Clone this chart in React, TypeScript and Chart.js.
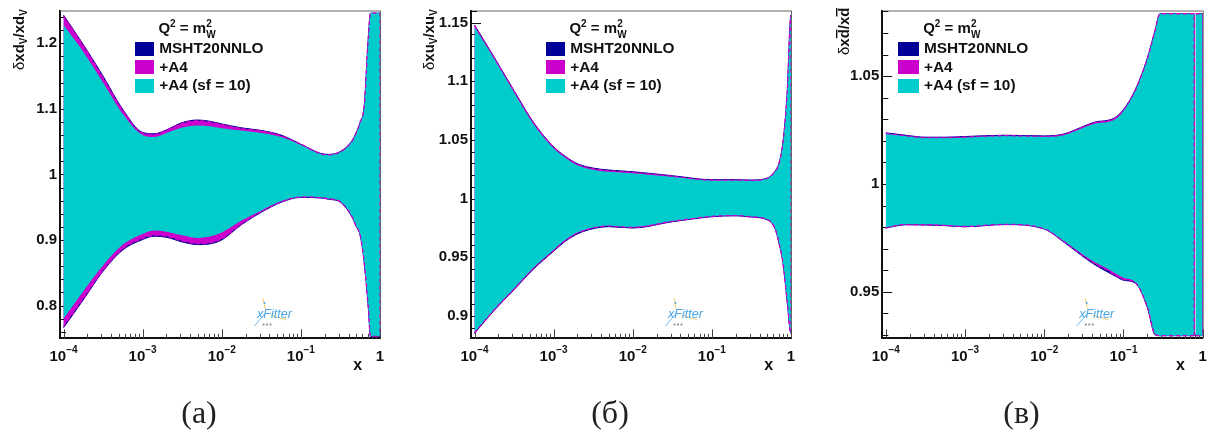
import React, { useEffect, useRef } from "react";
import { Chart, registerables } from "chart.js";

Chart.register(...registerables);

const xA = [1e-4, 1.78e-4, 3.16e-4, 5.62e-4, 1e-3, 1.41e-3, 2e-3, 3.16e-3, 5e-3, 7.08e-3, 1e-2, 1.78e-2, 3.16e-2, 5.62e-2, 0.1, 0.178, 0.224, 0.316, 0.447, 0.501, 0.562, 0.631, 0.708, 0.759, 0.891, 1, 1];
const dvMshtUp = [1.243, 1.198, 1.15, 1.099, 1.064, 1.062, 1.068, 1.079, 1.083, 1.081, 1.077, 1.071, 1.067, 1.06, 1.046, 1.032, 1.0305, 1.035, 1.052, 1.064, 1.08, 1.1045, 1.205, 1.246, 1.246, 1.246, 0.753];
const dvMshtLo = [0.766, 0.8087, 0.8524, 0.8848, 0.9006, 0.9056, 0.9041, 0.897, 0.8929, 0.894, 0.9, 0.9234, 0.9422, 0.9574, 0.965, 0.964, 0.9622, 0.9577, 0.9341, 0.9204, 0.9067, 0.8656, 0.8, 0.753, 0.753, 0.753, 0.753];
const dvA4Up = [1.242, 1.197, 1.148, 1.098, 1.063, 1.061, 1.0675, 1.078, 1.082, 1.08, 1.076, 1.07, 1.0665, 1.059, 1.046, 1.0315, 1.03, 1.0345, 1.0515, 1.0635, 1.0795, 1.104, 1.2045, 1.246, 1.246, 1.246, 0.753];
const dvA4Lo = [0.7681, 0.8102, 0.8534, 0.8864, 0.9021, 0.9071, 0.9056, 0.8985, 0.8944, 0.8955, 0.9016, 0.9244, 0.9432, 0.9579, 0.9655, 0.9645, 0.9627, 0.9582, 0.9346, 0.9209, 0.9072, 0.8661, 0.8005, 0.753, 0.753, 0.753, 0.753];
const dvSfUp = [1.228, 1.187, 1.14, 1.092, 1.06, 1.057, 1.063, 1.0715, 1.0745, 1.0735, 1.0705, 1.067, 1.063, 1.057, 1.045, 1.031, 1.0295, 1.034, 1.051, 1.063, 1.079, 1.1035, 1.204, 1.246, 1.246, 1.246, 0.753];
const dvSfLo = [0.7798, 0.8219, 0.861, 0.8929, 0.9092, 0.9143, 0.9127, 0.9072, 0.9031, 0.9051, 0.9112, 0.9295, 0.9447, 0.9589, 0.966, 0.965, 0.9632, 0.9587, 0.9351, 0.9214, 0.9077, 0.8666, 0.801, 0.753, 0.753, 0.753, 0.753];

const xB = [1e-4, 1.78e-4, 3.16e-4, 5.62e-4, 1e-3, 1.41e-3, 2e-3, 3.16e-3, 5e-3, 1e-2, 3.16e-2, 0.1, 0.2, 0.316, 0.501, 0.631, 0.708, 0.794, 0.891, 1, 1];
const uvMshtUp = [1.148, 1.1203, 1.092, 1.0645, 1.0441, 1.0359, 1.0297, 1.026, 1.0243, 1.0229, 1.0195, 1.0161, 1.0161, 1.0158, 1.0175, 1.0235, 1.0306, 1.049, 1.0886, 1.1565, 0.885];
const uvMshtLo = [0.885, 0.9048, 0.9223, 0.9401, 0.9551, 0.9636, 0.9698, 0.9743, 0.976, 0.9749, 0.9802, 0.9845, 0.9853, 0.9842, 0.9819, 0.974, 0.9613, 0.9444, 0.9133, 0.885, 0.885];
const uvA4Up = [1.1477, 1.12, 1.0917, 1.0642, 1.0438, 1.0356, 1.0293, 1.0255, 1.0238, 1.0224, 1.0191, 1.0158, 1.0158, 1.0155, 1.0173, 1.0233, 1.0304, 1.0488, 1.0884, 1.1563, 0.885];
const uvA4Lo = [0.8853, 0.9051, 0.9227, 0.9405, 0.9556, 0.9642, 0.9704, 0.9749, 0.9765, 0.9753, 0.9805, 0.9847, 0.9855, 0.9844, 0.9821, 0.9742, 0.9615, 0.9446, 0.9135, 0.8852, 0.885];
const uvSfUp = [1.1465, 1.119, 1.0907, 1.0632, 1.043, 1.0347, 1.0283, 1.0245, 1.0228, 1.0216, 1.0185, 1.0153, 1.0153, 1.0151, 1.017, 1.023, 1.0302, 1.0486, 1.0882, 1.1561, 0.885];
const uvSfLo = [0.8858, 0.9056, 0.9233, 0.9411, 0.9562, 0.9648, 0.971, 0.9754, 0.9769, 0.9757, 0.9808, 0.9849, 0.9857, 0.9846, 0.9823, 0.9744, 0.9617, 0.9448, 0.9137, 0.8854, 0.885];

const xC = [1e-4, 1.78e-4, 3.16e-4, 5.62e-4, 1e-3, 3.16e-3, 1e-2, 1.78e-2, 3.16e-2, 4.47e-2, 6.31e-2, 7.94e-2, 0.1, 0.141, 0.2, 0.251, 0.288, 0.501, 0.78, 0.7801, 0.8, 0.815, 1, 1];
const adMshtUp = [1.0237, 1.0226, 1.0217, 1.0217, 1.022, 1.0226, 1.0223, 1.0232, 1.0268, 1.0288, 1.0295, 1.0309, 1.0345, 1.0437, 1.0583, 1.0714, 1.0789, 1.0789, 1.0789, 0.9297, null, 1.0789, 1.0789, 0.9297];
const adMshtLo = [0.9796, 0.9811, 0.981, 0.9807, 0.9802, 0.9812, 0.9791, 0.973, 0.9661, 0.9623, 0.9592, 0.9572, 0.9554, 0.9541, 0.9428, 0.9301, 0.9297, 0.9297, 0.9297, 0.9297, null, 0.9297, 0.9297, 0.9297];
const adA4Up = [1.0235, 1.0224, 1.0215, 1.0215, 1.0218, 1.0224, 1.0221, 1.023, 1.0266, 1.0286, 1.0293, 1.0307, 1.0343, 1.0435, 1.0581, 1.0712, 1.0789, 1.0789, 1.0789, 0.9297, null, 1.0789, 1.0789, 0.9297];
const adA4Lo = [0.9797, 0.9812, 0.9811, 0.9808, 0.9803, 0.9813, 0.9792, 0.9732, 0.9665, 0.9628, 0.96, 0.9575, 0.9558, 0.9543, 0.943, 0.9303, 0.9297, 0.9297, 0.9297, 0.9297, null, 0.9297, 0.9297, 0.9297];
const adSfUp = [1.0233, 1.0222, 1.0213, 1.0213, 1.0216, 1.0222, 1.0219, 1.0227, 1.0262, 1.028, 1.0287, 1.0301, 1.0338, 1.0432, 1.0579, 1.071, 1.0789, 1.0789, 1.0789, 0.9297, null, 1.0789, 1.0789, 0.9297];
const adSfLo = [0.9798, 0.9813, 0.9813, 0.981, 0.9805, 0.9814, 0.9793, 0.9735, 0.967, 0.9635, 0.9607, 0.9585, 0.9566, 0.9545, 0.9432, 0.9305, 0.9297, 0.9297, 0.9297, 0.9297, null, 0.9297, 0.9297, 0.9297];

const xMajorTicks = [1e-4, 1e-3, 1e-2, 1e-1, 1];
const xTickBases = ["10", "10", "10", "10", "1"];
const xTickExponents = ["−4", "−3", "−2", "−1", ""];
const xMinorFactors = [2, 3, 4, 5, 6, 7, 8, 9];
const yMajorA = [0.8, 0.9, 1, 1.1, 1.2];
const yMajorB = [0.9, 0.95, 1, 1.05, 1.1, 1.15];
const yMajorC = [0.95, 1, 1.05];
const legendLabels = ["MSHT20NNLO", "+A4", "+A4 (sf = 10)"];

const BLUE = "#000099";
const MAGENTA = "#cc00cc";
const CYAN = "#00cccc";
const FONT = '"Liberation Sans", Arial, sans-serif';
const X_MIN = 9.03e-5;
const H = 435;
const TOP = 8.7;
const BOTTOM = 338.3;
const LEGEND_FONT = 15.4;

type Seg = { t: string; font: string; dy?: number; bar?: boolean };
const REG15 = `15px ${FONT}`;
const B15 = `bold 15px ${FONT}`;
const B10 = `bold 10px ${FONT}`;

const drawSegs = (ctx: any, segs: Seg[], x: number, y: number) => {
  let cx = x;
  for (const s of segs) {
    ctx.font = s.font;
    const w = ctx.measureText(s.t).width;
    ctx.fillText(s.t, cx, y + (s.dy || 0));
    if (s.bar) {
      ctx.fillRect(cx + w - 9, y - 13, 8.5, 1.4);
    }
    cx += w;
  }
};

const qSegs: Seg[] = [
  { t: "Q", font: B15 },
  { t: "2", font: B10, dy: -6.5 },
  { t: " = m", font: B15 },
];

const legendBox = (color: string, w: number) => {
  const c = document.createElement("canvas");
  c.width = w;
  c.height = 14;
  const g = c.getContext("2d") as any;
  g.fillStyle = color;
  g.fillRect(0, 0, w, 14);
  return c;
};

type Panel = {
  caption: string;
  captionX: number;
  canvasLeft: number;
  width: number;
  left: number;
  right: number;
  yMin: number;
  yMax: number;
  yMajor: number[];
  yMinorStep: number;
  xs: number[];
  ms: [any[], any[]];
  a4: [any[], any[]];
  sf: [any[], any[]];
  titleBase: number;
  titleStart: number;
  titleSegs: Seg[];
  legendX: number;
  boxW: number;
  textOff: number;
};

const panels: Panel[] = [
  {
    caption: "(a)", captionX: 199, canvasLeft: 0, width: 405, left: 60, right: 380,
    yMin: 0.75, yMax: 1.25, yMajor: yMajorA, yMinorStep: 0.02, xs: xA,
    ms: [dvMshtUp, dvMshtLo], a4: [dvA4Up, dvA4Lo], sf: [dvSfUp, dvSfLo],
    titleBase: 24, titleStart: 70,
    titleSegs: [
      { t: "δ", font: REG15 }, { t: "xd", font: B15 }, { t: "V", font: B10, dy: 3 },
      { t: "/xd", font: B15 }, { t: "V", font: B10, dy: 3 },
    ],
    legendX: 136, boxW: 19, textOff: 23.2,
  },
  {
    caption: "(б)", captionX: 610, canvasLeft: 410, width: 405, left: 61, right: 381,
    yMin: 0.8808, yMax: 1.1604, yMajor: yMajorB, yMinorStep: 0.01, xs: xB,
    ms: [uvMshtUp, uvMshtLo], a4: [uvA4Up, uvA4Lo], sf: [uvSfUp, uvSfLo],
    titleBase: 24, titleStart: 70,
    titleSegs: [
      { t: "δ", font: REG15 }, { t: "xu", font: B15 }, { t: "V", font: B10, dy: 3 },
      { t: "/xu", font: B15 }, { t: "V", font: B10, dy: 3 },
    ],
    legendX: 137, boxW: 19, textOff: 23.2,
  },
  {
    caption: "(в)", captionX: 1021.5, canvasLeft: 820, width: 404, left: 62.3, right: 382.7,
    yMin: 0.9285, yMax: 1.0804, yMajor: yMajorC, yMinorStep: 0.01, xs: xC,
    ms: [adMshtUp, adMshtLo], a4: [adA4Up, adA4Lo], sf: [adSfUp, adSfLo],
    titleBase: 29, titleStart: 55,
    titleSegs: [
      { t: "δ", font: REG15 }, { t: "xd", font: B15, bar: true },
      { t: "/xd", font: B15, bar: true },
    ],
    legendX: 79, boxW: 21, textOff: 25,
  },
];

const pts = (xs: number[], ys: any[]) => xs.map((x, i) => ({ x, y: ys[i] }));
const boxStep = (p: Panel) => 2 * (p.textOff + 1 - LEGEND_FONT / 2) - p.boxW;

const makeDatasets = (p: Panel) => {
  const line = {
    pointRadius: 0,
    cubicInterpolationMode: "monotone",
    spanGaps: false,
  };
  const band = (pair: [any[], any[]], color: string, order: number, bw: number, label: string) => [
    { ...line, label, data: pts(p.xs, pair[0]), fill: "+1", backgroundColor: color, borderColor: color, borderWidth: bw, order },
    { ...line, label: label + " low", data: pts(p.xs, pair[1]), fill: false, backgroundColor: color, borderColor: color, borderWidth: bw, order },
  ];
  const outline = (ys: any[], label: string) => ({
    ...line, label, data: pts(p.xs, ys), fill: false, borderColor: MAGENTA, borderWidth: 1.3, borderDash: [4, 3], order: 1,
  });
  return [
    ...band(p.ms, BLUE, 5, 1, legendLabels[0]),
    ...band(p.a4, MAGENTA, 4, 0, legendLabels[1]),
    ...band(p.sf, CYAN, 3, 0, legendLabels[2]),
    outline(p.a4[0], "+A4 edge up"),
    outline(p.a4[1], "+A4 edge low"),
  ];
};

const xTickList = () => {
  const out: any[] = [];
  xMajorTicks.forEach((m, i) => {
    out.push({ value: m, major: true });
    if (i < xMajorTicks.length - 1) xMinorFactors.forEach((f) => out.push({ value: m * f, major: false }));
  });
  return out;
};

const yTickList = (p: Panel) => {
  const out: any[] = [];
  const n0 = Math.ceil(p.yMin / p.yMinorStep);
  const n1 = Math.floor(p.yMax / p.yMinorStep);
  for (let n = n0; n <= n1; n++) {
    const v = +(n * p.yMinorStep).toFixed(4);
    if (!p.yMajor.some((m) => Math.abs(m - v) < 1e-6)) out.push({ value: v, major: false });
  }
  p.yMajor.forEach((m) => out.push({ value: m, major: true }));
  return out.sort((a, b) => a.value - b.value);
};

const panelPlugin = (p: Panel) => ({
  id: "panelDecor",
  beforeDraw(chart: any) {
    const lg = chart.legend;
    const pad = lg.options.labels.padding;
    lg.left = p.legendX - (boxStep(p) - p.boxW) / 2 - pad - 1;
    lg.right = lg.left + 260;
    lg.top = 41 - pad;
    lg.bottom = lg.top + 90;
  },
  beforeDatasetsDraw(chart: any) {
    const { ctx, chartArea: a, scales } = chart;
    ctx.save();
    ctx.lineWidth = 1;
    ctx.strokeStyle = "#666";
    ctx.beginPath();
    ctx.moveTo(a.left, a.top + 0.5);
    ctx.lineTo(a.right, a.top + 0.5);
    ctx.moveTo(a.right + 0.5, a.top);
    ctx.lineTo(a.right + 0.5, a.bottom);
    ctx.stroke();
    ctx.strokeStyle = "#444";
    for (const t of scales.x.ticks) {
      const px = Math.round(scales.x.getPixelForValue(t.value)) + 0.5;
      ctx.beginPath();
      ctx.moveTo(px, a.bottom);
      ctx.lineTo(px, a.bottom - (t.major ? 9 : 4.5));
      ctx.stroke();
    }
    ctx.strokeStyle = "#111";
    for (const t of scales.y.ticks) {
      const py = Math.round(scales.y.getPixelForValue(t.value)) + 0.5;
      ctx.beginPath();
      ctx.moveTo(a.left, py);
      ctx.lineTo(a.left + (t.major ? 10 : 6), py);
      ctx.stroke();
    }
    ctx.restore();
  },
  afterDraw(chart: any) {
    const { ctx, scales } = chart;
    ctx.save();
    ctx.fillStyle = "#111";
    ctx.textBaseline = "alphabetic";
    ctx.textAlign = "left";
    // x tick labels with real superscript exponents
    xMajorTicks.forEach((m, i) => {
      const px = scales.x.getPixelForValue(m);
      ctx.font = B15;
      const bw = ctx.measureText(xTickBases[i]).width;
      ctx.font = B10;
      const ew = ctx.measureText(xTickExponents[i]).width;
      const start = px - (bw + ew) / 2;
      ctx.font = B15;
      ctx.fillText(xTickBases[i], start, 360.5);
      if (xTickExponents[i]) {
        ctx.font = B10;
        ctx.fillText(xTickExponents[i], start + bw, 352.5);
      }
    });
    // annotation Q^2 = m_W^2
    const qx = p.legendX + p.textOff - 0.8;
    drawSegs(ctx, qSegs, qx, 33);
    ctx.font = B15;
    const qw = 11.7 + 5.6 + ctx.measureText(" = m").width;
    ctx.font = B10;
    ctx.fillText("2", qx + qw, 26.5);
    ctx.fillText("W", qx + qw, 37.5);
    // rotated y title
    ctx.save();
    ctx.translate(p.titleBase, p.titleStart);
    ctx.rotate(-Math.PI / 2);
    drawSegs(ctx, p.titleSegs, 0, 0);
    ctx.restore();
    // xFitter logo
    const x0 = scales.x.getPixelForValue(1e-4);
    ctx.lineWidth = 1;
    ctx.strokeStyle = "#f5cf70";
    ctx.beginPath();
    ctx.moveTo(x0 + 199.5, 298);
    ctx.lineTo(x0 + 201.5, 309);
    ctx.moveTo(x0 + 207, 315);
    ctx.lineTo(x0 + 223, 320);
    ctx.stroke();
    ctx.strokeStyle = "#6fb9e8";
    ctx.beginPath();
    ctx.moveTo(x0 + 201, 314);
    ctx.lineTo(x0 + 191, 326);
    ctx.stroke();
    ctx.fillStyle = "#4aa6e2";
    ctx.beginPath();
    ctx.arc(x0 + 201, 303, 1, 0, Math.PI * 2);
    ctx.fill();
    ctx.font = `italic 12.6px ${FONT}`;
    ctx.fillText("xFitter", x0 + 193.5, 317.5);
    ctx.fillStyle = "#999";
    for (const d of [199, 202.5, 206]) ctx.fillRect(x0 + d, 323.5, 2, 2);
    ctx.restore();
  },
});

function Panel({ p }: { p: Panel }) {
  const ref = useRef<HTMLCanvasElement | null>(null);
  useEffect(() => {
    const major = xTickList();
    const chart = new Chart(ref.current as any, {
      type: "line",
      data: { datasets: makeDatasets(p) as any },
      plugins: [panelPlugin(p) as any],
      options: {
        animation: false,
        responsive: false,
        devicePixelRatio: 1,
        layout: { padding: { left: 0, top: TOP, right: p.width - p.right, bottom: 0 } },
        plugins: {
          tooltip: { enabled: false },
          filler: { propagate: false },
          legend: {
            display: true,
            position: "chartArea",
            align: "start",
            labels: {
              usePointStyle: true,
              pointStyleWidth: boxStep(p),
              padding: 3.3,
              color: "#111",
              font: { family: FONT, size: LEGEND_FONT, weight: "bold", lineHeight: 1 },
              generateLabels: () =>
                legendLabels.map((text, i) => ({
                  text,
                  fontColor: "#111",
                  pointStyle: legendBox([BLUE, MAGENTA, CYAN][i], p.boxW),
                  fillStyle: [BLUE, MAGENTA, CYAN][i],
                  lineWidth: 0,
                  hidden: false,
                  datasetIndex: i * 2,
                })),
            },
          },
        },
        scales: {
          x: {
            type: "logarithmic",
            position: "bottom",
            min: X_MIN,
            max: 1,
            grid: { display: false, drawTicks: false },
            border: { display: true, color: "#111", width: 2 },
            afterBuildTicks: (s: any) => {
              s.ticks = major;
            },
            afterFit: (s: any) => {
              s.height = H - BOTTOM;
            },
            title: {
              display: true,
              text: "x\u00a0\u00a0\u00a0\u00a0",
              align: "end",
              color: "#111",
              font: { family: FONT, size: 16, weight: "bold", lineHeight: 1 },
              padding: { top: 0, bottom: 61 },
            },
            ticks: { display: false, autoSkip: false, maxRotation: 0, minRotation: 0 },
          },
          y: {
            type: "linear",
            position: "left",
            min: p.yMin,
            max: p.yMax,
            grid: { display: false, drawTicks: false },
            border: { display: true, color: "#111", width: 2 },
            afterBuildTicks: (s: any) => {
              s.ticks = yTickList(p);
            },
            afterFit: (s: any) => {
              s.width = p.left;
            },
            ticks: {
              autoSkip: false,
              padding: 3,
              color: "#111",
              font: { family: FONT, size: 15, weight: "bold", lineHeight: 1 },
              callback: (v: any) => (p.yMajor.some((m) => Math.abs(m - v) < 1e-6) ? String(v) : ""),
            },
          },
        },
      } as any,
    });
    return () => chart.destroy();
  }, [p]);
  return (
    <>
      <canvas
        ref={ref}
        width={p.width}
        height={H}
        style={{ position: "absolute", left: p.canvasLeft, top: 0, width: p.width, height: H, display: "block" }}
      />
      <div
        style={{
          position: "absolute",
          left: p.captionX,
          top: 393,
          transform: "translateX(-50%)",
          font: '32px "Liberation Serif", serif',
          color: "#222",
          lineHeight: "38px",
          whiteSpace: "nowrap",
        }}
      >
        {p.caption}
      </div>
    </>
  );
}

export default function App() {
  return (
    <div style={{ position: "absolute", left: 0, top: 0, width: 1224, height: H, background: "#fff", overflow: "hidden" }}>
      {panels.map((p) => (
        <Panel key={p.caption} p={p} />
      ))}
    </div>
  );
}
